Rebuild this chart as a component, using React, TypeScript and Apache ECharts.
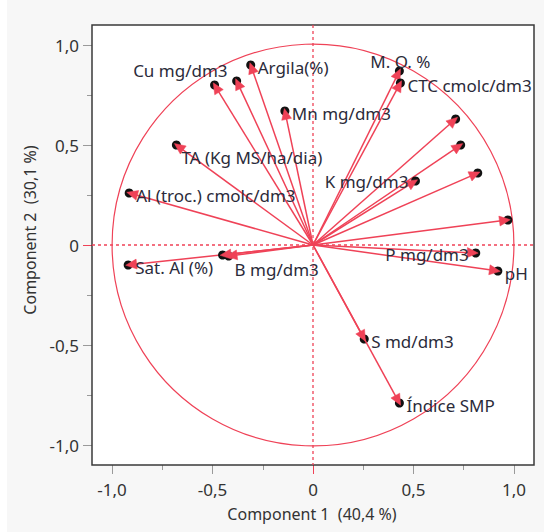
import { useEffect, useRef } from "react";
import * as echarts from "echarts";

// ---- data (loadings) ----
const variables = [
  "Cu mg/dm3",
  "",
  "Argila(%)",
  "Mn mg/dm3",
  "TA (Kg MS/ha/dia)",
  "Al (troc.) cmolc/dm3",
  "M. O. %",
  "CTC cmolc/dm3",
  "",
  "",
  "",
  "K mg/dm3",
  "",
  "P mg/dm3",
  "pH",
  "S md/dm3",
  "Índice SMP",
  "Sat. Al (%)",
  "B mg/dm3",
  "",
];
const component1 = [-0.49, -0.38, -0.31, -0.14, -0.68, -0.915, 0.43, 0.435, 0.71, 0.735, 0.82, 0.51, 0.97, 0.81, 0.92, 0.255, 0.43, -0.92, -0.42, -0.45];
const component2 = [0.8, 0.82, 0.9, 0.67, 0.5, 0.26, 0.87, 0.81, 0.63, 0.5, 0.36, 0.32, 0.125, -0.04, -0.13, -0.47, -0.79, -0.1, -0.055, -0.05];

const labelTicks = [-1, -0.5, 0, 0.5, 1];
const majorTicks = [-1, -0.5, 0.5, 1];
const minorTicks = [-0.75, -0.25, 0.25, 0.75];
const zeroTick = [0];
const axisMin = -1.1;
const axisMax = 1.1;
const xTitle = "Component 1  (40,4 %)";
const yTitle = "Component 2  (30,1 %)";

// ---- styling ----
const RED = "#ef4257";
const TEXT = "#2b2b3a";
const FONT = "'Noto Sans', sans-serif";
const FS = 17;
const TITLE_FS = 16;

type Place = { dx: number; dy: number; align: "left" | "right" | "center" };
const defaultPlace: Place = { dx: 7, dy: 2, align: "left" };
const placement: Record<string, Place> = {
  "Cu mg/dm3": { dx: 13, dy: -15, align: "right" },
  "TA (Kg MS/ha/dia)": { dx: 5, dy: 12, align: "left" },
  "M. O. %": { dx: 1, dy: -10, align: "center" },
  "K mg/dm3": { dx: -7, dy: 0, align: "right" },
  "P mg/dm3": { dx: -7, dy: 1, align: "right" },
  "B mg/dm3": { dx: 6, dy: 13, align: "left" },
};

const fmt = (v: number) => (v === 0 ? "0" : v.toFixed(1).replace(".", ","));

function makeX(values: number[], len: number, color: string, labels: boolean) {
  return {
    type: "value",
    min: axisMin,
    max: axisMax,
    position: "bottom",
    gridIndex: 0,
    axisLine: { show: false, onZero: false },
    splitLine: { show: false },
    axisTick: { show: true, customValues: values, length: len, lineStyle: { color, width: 1 } },
    axisLabel: labels
      ? { show: true, customValues: labelTicks, formatter: fmt, color: "#333", fontSize: FS, fontFamily: FONT, margin: 16 }
      : { show: false },
  };
}
function makeY(values: number[], len: number, color: string, labels: boolean) {
  return {
    type: "value",
    min: axisMin,
    max: axisMax,
    position: "left",
    gridIndex: 0,
    axisLine: { show: false, onZero: false },
    splitLine: { show: false },
    axisTick: { show: true, customValues: values, length: len, lineStyle: { color, width: 1 } },
    axisLabel: labels
      ? { show: true, customValues: labelTicks, formatter: fmt, color: "#333", fontSize: FS, fontFamily: FONT, margin: 13 }
      : { show: false },
  };
}

export default function App() {
  const ref = useRef<HTMLDivElement>(null);
  useEffect(() => {
    if (!ref.current) return;
    const chart = echarts.init(ref.current, null, { renderer: "svg" });
    const points = component1.map((x, i) => [x, component2[i]]);

    const option: any = {
      animation: false,
      backgroundColor: "#ffffff",
      graphic: [
        { type: "rect", left: 7, top: 0, shape: { width: 537, height: 532 }, style: { fill: "#f7f7f7" }, z: -10, silent: true },
        {
          type: "text",
          x: 312,
          y: 514,
          style: { text: xTitle, fill: "#333", font: `${TITLE_FS}px ${FONT}`, align: "center", verticalAlign: "middle" },
        },
        {
          type: "text",
          x: 30,
          y: 230,
          rotation: Math.PI / 2,
          style: { text: yTitle, fill: "#333", font: `${TITLE_FS}px ${FONT}`, align: "center", verticalAlign: "middle" },
        },
      ],
      grid: {
        left: 92,
        top: 25,
        width: 442,
        height: 440,
        show: true,
        backgroundColor: "#ffffff",
        borderColor: "#3a3a3a",
        borderWidth: 1.5,
        outerBoundsMode: "none",
        z: 1,
      },
      xAxis: [
        makeX(majorTicks, 9, "#9a9a9a", true),
        makeX(minorTicks, 5, "#9a9a9a", false),
        makeX(zeroTick, 9, RED, false),
      ],
      yAxis: [
        makeY(majorTicks, 9, "#9a9a9a", true),
        makeY(minorTicks, 5, "#9a9a9a", false),
        makeY(zeroTick, 9, RED, false),
      ],
      series: [
        {
          type: "custom",
          xAxisIndex: 0,
          yAxisIndex: 0,
          data: [[0, 0]],
          z: 2,
          silent: true,
          renderItem: (_p: any, api: any) => {
            const o = api.coord([0, 0]);
            const r = api.size([1, 1])[0];
            const top = api.coord([0, axisMax]);
            const bot = api.coord([0, axisMin]);
            const lft = api.coord([axisMin, 0]);
            const rgt = api.coord([axisMax, 0]);
            return {
              type: "group",
              children: [
                { type: "circle", shape: { cx: o[0], cy: o[1], r }, style: { fill: "none", stroke: RED, lineWidth: 1.2 } },
                { type: "line", shape: { x1: top[0], y1: top[1], x2: bot[0], y2: bot[1] }, style: { stroke: RED, lineWidth: 1.3, lineDash: [3, 3] } },
                { type: "line", shape: { x1: lft[0], y1: lft[1], x2: rgt[0], y2: rgt[1] }, style: { stroke: RED, lineWidth: 1.3, lineDash: [3, 3] } },
              ],
            };
          },
        },
        {
          type: "custom",
          xAxisIndex: 0,
          yAxisIndex: 0,
          data: points,
          z: 3,
          silent: true,
          renderItem: (_p: any, api: any) => {
            const o = api.coord([0, 0]);
            const p = api.coord([api.value(0), api.value(1)]);
            const dx = p[0] - o[0];
            const dy = p[1] - o[1];
            const len = Math.hypot(dx, dy);
            const ux = dx / len;
            const uy = dy / len;
            const tip = [p[0] + ux * 2.5, p[1] + uy * 2.5];
            const L = 11;
            const W = 5;
            const base = [tip[0] - ux * L, tip[1] - uy * L];
            const poly = [tip, [base[0] - uy * W, base[1] + ux * W], [base[0] + uy * W, base[1] - ux * W]];
            return {
              type: "group",
              children: [
                { type: "line", shape: { x1: o[0], y1: o[1], x2: base[0] + ux * 2, y2: base[1] + uy * 2 }, style: { stroke: RED, lineWidth: 1.5 } },
                { type: "circle", shape: { cx: p[0], cy: p[1], r: 4.5 }, style: { fill: "#111", stroke: null } },
                { type: "polygon", shape: { points: poly }, style: { fill: RED, stroke: RED, lineWidth: 0.5 } },
              ],
            };
          },
        },
        {
          type: "custom",
          xAxisIndex: 0,
          yAxisIndex: 0,
          data: points,
          z: 4,
          silent: true,
          renderItem: (params: any, api: any) => {
            const name = variables[params.dataIndex];
            if (!name) return { type: "group", children: [] };
            const p = api.coord([api.value(0), api.value(1)]);
            const pl = placement[name] || defaultPlace;
            return {
              type: "text",
              style: {
                text: name,
                x: p[0] + pl.dx,
                y: p[1] + pl.dy,
                fill: TEXT,
                font: `${FS}px ${FONT}`,
                align: pl.align,
                verticalAlign: "middle",
              },
            };
          },
        },
      ],
    };
    chart.setOption(option);
    return () => chart.dispose();
  }, []);
  return <div ref={ref} style={{ position: "fixed", left: 0, top: 0, width: 544, height: 532 }} />;
}
